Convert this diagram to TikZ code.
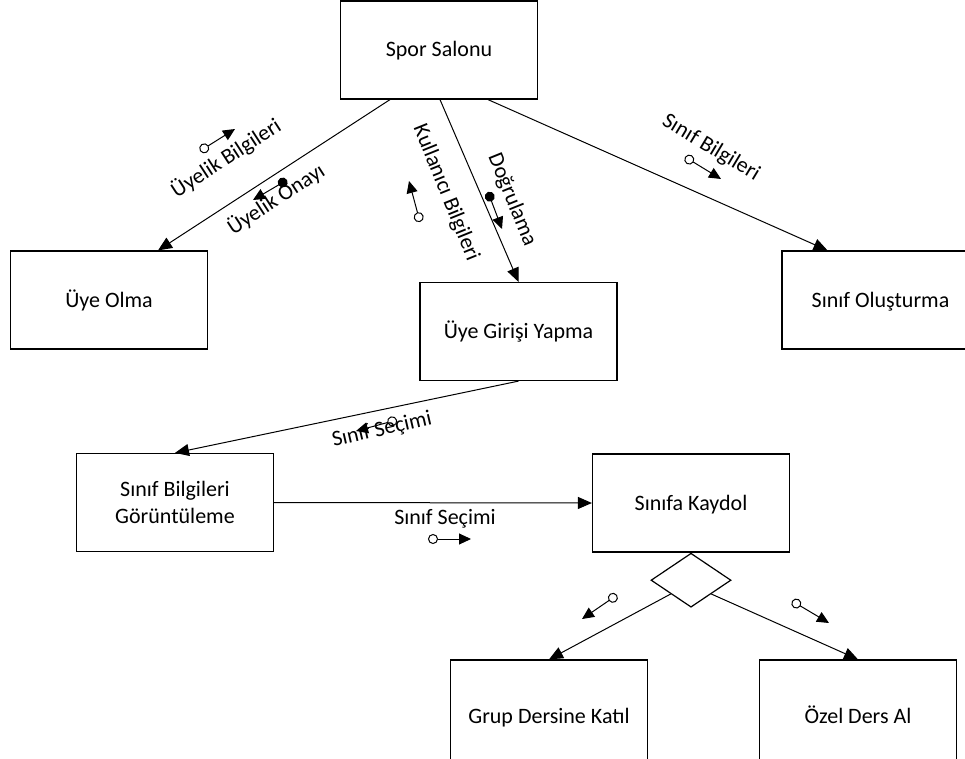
\documentclass[tikz,border=0pt]{standalone}
\usepackage{fontspec}
\setmainfont{Carlito}
\usetikzlibrary{arrows.meta,shapes.geometric,calc}

\tikzset{
  box/.style={draw, line width=1.2pt, minimum width=197pt, minimum height=98pt, align=center, inner sep=0pt, text height=14pt, text depth=0pt},
  flow/.style={line width=1pt, -{Triangle[length=14pt,width=12pt]}},
  msgopen/.style={line width=1pt, {Circle[open,length=10pt,width=10pt]}-{Triangle[length=12pt,width=11pt]}},
  msgfull/.style={line width=1pt, {Circle[length=10pt,width=10pt]}-{Triangle[length=12pt,width=11pt]}},
  lbl/.style={inner sep=0pt}
}

\begin{document}
\begin{tikzpicture}[x=1pt,y=-1pt,font=\fontsize{22}{27}\selectfont]
\useasboundingbox (0,0) rectangle (965,759);

% boxes
\node[box] (spor) at (439,50) {Spor Salonu};
\node[box] (olma) at (109,300) {Üye Olma};
\node[box] (giris) at (518.5,331.5) {Üye Girişi Yapma};
\node[box] (olustur) at (880.5,300) {Sınıf Oluşturma};
\node[box, text height=, text depth=] (goruntu) at (175,502.5) {Sınıf Bilgileri\\Görüntüleme};
\node[box] (kaydol) at (691,503) {Sınıfa Kaydol};
\node[draw, diamond, line width=1.2pt, minimum width=80pt, minimum height=54pt, inner sep=0pt, anchor=north] (secim) at (kaydol.south) {};
\node[box, minimum height=112pt] (grup) at (549,716) {Grup Dersine Katıl};
\node[box, minimum height=112pt] (ozel) at (858,716) {Özel Ders Al};

% connectors
\draw[flow] ([xshift=-49pt]spor.south) -- ([xshift=49pt]olma.north);
\draw[flow] ([xshift=1pt]spor.south) -- (giris.north);
\draw[flow] ([xshift=49pt]spor.south) -- ([xshift=-53pt]olustur.north);
\draw[flow] (giris.south) -- (goruntu.north);
\draw[flow] (goruntu.east) -- (kaydol.west);
\draw[flow] ($(secim.west)!0.5!(secim.south)$) -- (grup.north);
\draw[flow] ($(secim.east)!0.5!(secim.south)$) -- (ozel.north);

% labels
\node[lbl, rotate=33] (uyelikBilgi) at (226,158) {Üyelik Bilgileri};
\node[lbl, rotate=33] (uyelikOnay) at (276,199) {Üyelik Onayı};
\node[lbl, rotate=-68] (kullanici) at (446,193) {Kullanıcı Bilgileri};
\node[lbl, rotate=-68] (dogrulama) at (512,200) {Doğrulama};
\node[lbl, rotate=-31] (sinifBilgi) at (711,148) {Sınıf Bilgileri};
\node[lbl, rotate=13] (secimUst) at (382,430) {Sınıf Seçimi};
\node[lbl] (secimAlt) at (445,519) {Sınıf Seçimi};

% data couples
\coordinate (ub1) at (200,151); \coordinate (ub2) at (235,129);
\coordinate (uo1) at (287,180); \coordinate (uo2) at (253,200);
\coordinate (kb1) at (420,222); \coordinate (kb2) at (409,181);
\coordinate (dg1) at (488,192); \coordinate (dg2) at (502,229);
\coordinate (sb1) at (685,157); \coordinate (sb2) at (721,179);
\coordinate (ss1) at (397,420); \coordinate (ss2) at (356,431);
\coordinate (sa1) at (428,539); \coordinate (sa2) at (471,539);
\coordinate (gd1) at (617,595); \coordinate (gd2) at (582,619);
\coordinate (od1) at (792,601); \coordinate (od2) at (829,623);
\draw[msgopen] (ub1) -- (ub2);
\draw[msgfull] (uo1) -- (uo2);
\draw[msgopen] (kb1) -- (kb2);
\draw[msgfull] (dg1) -- (dg2);
\draw[msgopen] (sb1) -- (sb2);
\draw[msgopen] (ss1) -- (ss2);
\draw[msgopen] (sa1) -- (sa2);
\draw[msgopen] (gd1) -- (gd2);
\draw[msgopen] (od1) -- (od2);
\end{tikzpicture}
\end{document}
